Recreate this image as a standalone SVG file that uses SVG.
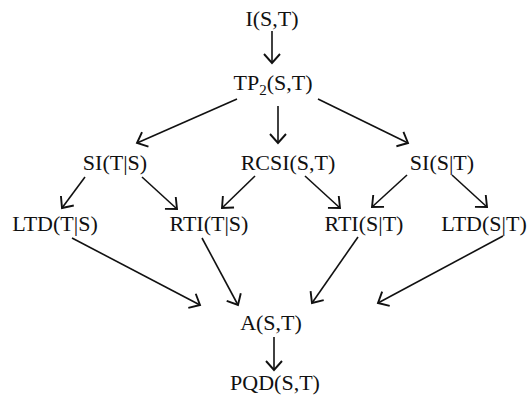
<svg xmlns="http://www.w3.org/2000/svg" width="530" height="398" viewBox="0 0 530 398">
<defs>
<style>
text{font-family:"Liberation Serif","Times New Roman",serif;font-size:22px;fill:#111;text-anchor:middle}
.c line{stroke:#111;stroke-width:1.6;marker-end:url(#ah)}
</style>
<marker id="ah" markerUnits="userSpaceOnUse" viewBox="-12 -10 14 20" refX="0" refY="0" markerWidth="14" markerHeight="20" orient="auto" overflow="visible">
<path d="M-9,-8 L0,0 L-9,8" fill="none" stroke="#111" stroke-width="1.9"/>
</marker>
</defs>
<rect width="530" height="398" fill="#fff"/>
<g id="n-I"><text x="272" y="26">I(S,T)</text></g>
<g id="n-TP2"><text x="273" y="90">TP<tspan dy="5" font-size="15">2</tspan><tspan dy="-5">(S,T)</tspan></text></g>
<g id="n-SITS"><text x="115" y="170">SI(T|S)</text></g>
<g id="n-RCSI"><text x="288" y="170">RCSI(S,T)</text></g>
<g id="n-SIST"><text x="442" y="170">SI(S|T)</text></g>
<g id="n-LTDTS"><text x="55" y="231">LTD(T|S)</text></g>
<g id="n-RTITS"><text x="209" y="231">RTI(T|S)</text></g>
<g id="n-RTIST"><text x="364" y="231">RTI(S|T)</text></g>
<g id="n-LTDST"><text x="484" y="231">LTD(S|T)</text></g>
<g id="n-A"><text x="271" y="330">A(S,T)</text></g>
<g id="n-PQD"><text x="275" y="390">PQD(S,T)</text></g>
<g id="connectors" class="c">
<line x1="272" y1="31" x2="272" y2="63"/>
<line x1="237" y1="99" x2="137" y2="143"/>
<line x1="278" y1="106" x2="278" y2="143"/>
<line x1="318" y1="99" x2="408" y2="143"/>
<line x1="85" y1="177" x2="62" y2="208"/>
<line x1="142" y1="177" x2="177" y2="209"/>
<line x1="255" y1="176" x2="222" y2="208"/>
<line x1="305" y1="176" x2="340" y2="208"/>
<line x1="407" y1="175" x2="372" y2="207"/>
<line x1="452" y1="175" x2="487" y2="207"/>
<line x1="72" y1="238" x2="200" y2="305"/>
<line x1="202" y1="238" x2="238" y2="305"/>
<line x1="358" y1="237" x2="312" y2="303"/>
<line x1="503" y1="236" x2="378" y2="303"/>
<line x1="274" y1="337" x2="274" y2="370"/>
</g>
</svg>
